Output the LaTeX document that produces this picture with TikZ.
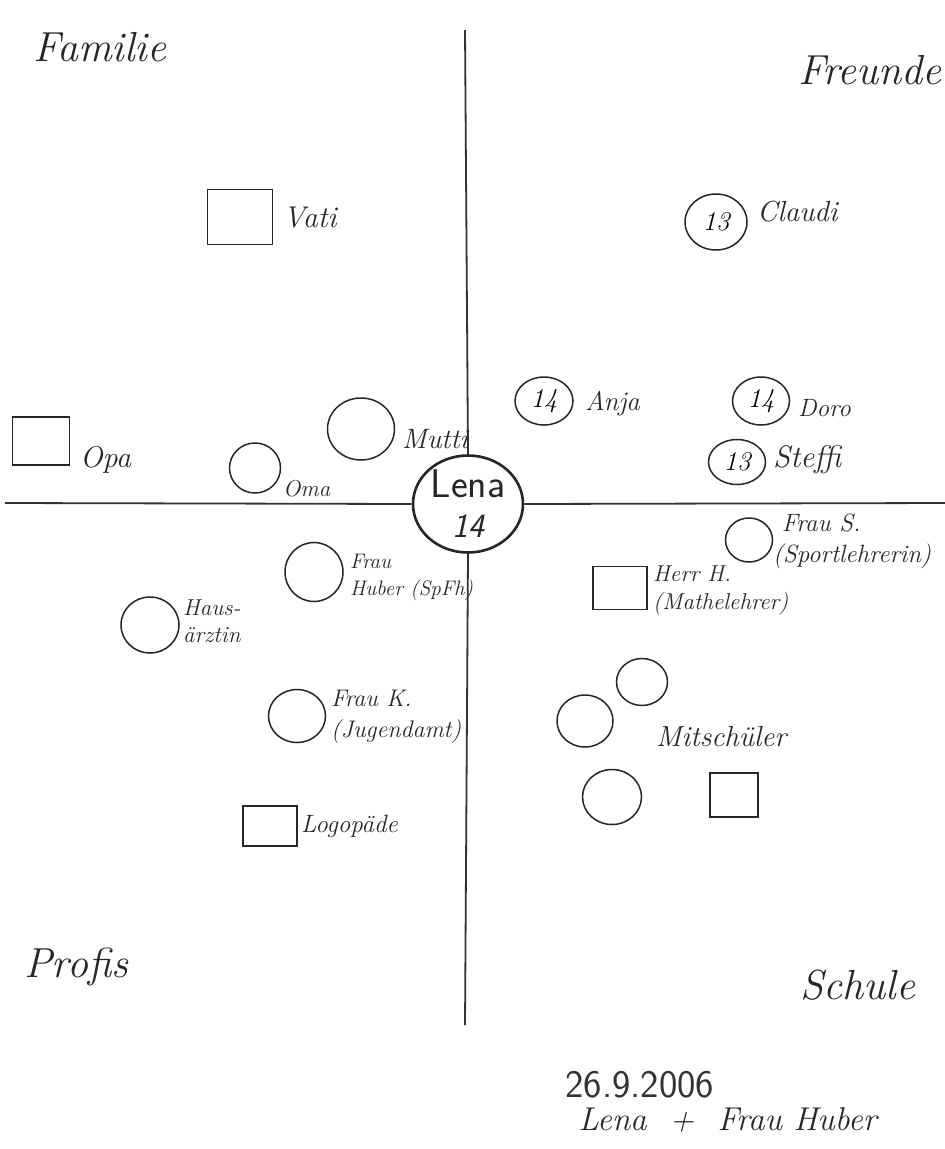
\documentclass[tikz,border=0pt]{standalone}
\usetikzlibrary{shapes.geometric}
\newcommand{\fsz}[1]{\fontsize{#1}{#1}\selectfont}
\newcommand{\fszb}[2]{\fontsize{#1}{#2}\selectfont}
\begin{document}
\begin{tikzpicture}[x=1pt,y=-1pt,
  pen/.style={draw=black!85, line width=1.5pt},
  person/.style={pen, ellipse, inner sep=0pt, font=\itshape\fsz{27}},
  box/.style={pen, rectangle, inner sep=0pt},
  lbl/.style={font=\itshape\fsz{24}, text=black!85, inner sep=0pt},
  small/.style={text=black!85, align=left, inner sep=0pt},
  title/.style={font=\itshape\fontsize{42}{44}\selectfont, text=black!85},
  axis/.style={draw=black!80, line width=1.8pt}]
\useasboundingbox (0,0) rectangle (945,1149);
\fill[white] (0,0) rectangle (945,1149);
% axes
\coordinate (top) at (465,30);
\coordinate (bot) at (465,1025);
\coordinate (left) at (5,503);
\coordinate (right) at (945,503);
\node[ellipse, draw=black!85, line width=2.6pt, fill=white, minimum width=110, minimum height=97, inner sep=0pt,
  label={[font=\sffamily\fontsize{40}{40}\selectfont, text=black!85, align=center]center:Lena\\{\itshape\fsz{34}14}}] (lena) at (468,504) {};
\draw[axis] (top) -- (lena.north);
\draw[axis] (lena.south) -- (bot);
\draw[axis] (left) -- (lena.west);
\draw[axis] (lena.east) -- (right);
% titles
\node[title] (familie) at (100,47) {Familie};
\node[title] (freunde) at (870,70) {Freunde};
\node[title] (profis) at (76,967) {Profis};
\node[title] (schule) at (858,985) {Schule};
% Familie
\node[box, minimum width=65, minimum height=55] (vati) at (240,217) {};
\node[lbl, font=\itshape\fsz{30}, anchor=west] (vatil) at (283,218) {Vati};
\node[box, minimum width=57, minimum height=48] (opa) at (41,441) {};
\node[lbl, font=\itshape\fsz{30}, anchor=west] (opal) at (80,460) {Opa};
\node[person, minimum width=51, minimum height=50] (oma) at (255,468) {};
\node[lbl, font=\itshape\fsz{23}, anchor=west] (omal) at (283,489) {Oma};
\node[person, minimum width=67, minimum height=62] (mutti) at (361,429) {};
\node[lbl, font=\itshape\fsz{28}, anchor=west] (muttil) at (402,439) {Mutti};
% Freunde
\node[person, minimum width=62, minimum height=56] (claudi) at (716,222) {13};
\node[lbl, font=\itshape\fsz{29}, anchor=west] (claudil) at (757,212) {Claudi};
\node[person, minimum width=58, minimum height=48] (anja) at (544,401) {14};
\node[lbl, font=\itshape\fsz{27}, anchor=west] (anjal) at (585,404) {Anja};
\node[person, minimum width=57, minimum height=48] (doro) at (761,401) {14};
\node[lbl, font=\itshape\fsz{25}, anchor=west] (dorol) at (798,408) {Doro};
\node[person, minimum width=57, minimum height=45] (steffi) at (737,462) {13};
\node[lbl, font=\itshape\fsz{31}, anchor=west] (steffil) at (773,460) {Steffi};
% Schule
\node[person, minimum width=47, minimum height=44] (fraus) at (749,540) {};
\node[small, font=\itshape\fszb{25}{31}, anchor=north west] (frausl) at (773,514) {\ Frau S.\\(Sportlehrerin)};
\node[box, minimum width=54, minimum height=43] (herrh) at (620,588) {};
\node[small, font=\itshape\fszb{23}{28}, anchor=north west] (herrhl) at (653,566) {Herr H.\\(Mathelehrer)};
\node[person, minimum width=51, minimum height=47] (m1) at (642,682) {};
\node[person, minimum width=56, minimum height=52] (m2) at (585,721) {};
\node[person, minimum width=59, minimum height=55] (m3) at (612,797) {};
\node[box, minimum width=48, minimum height=44] (m4) at (734,795) {};
\node[lbl, font=\itshape\fsz{29}, anchor=west] (mitl) at (656,737) {Mitschüler};
% Profis
\node[person, minimum width=58, minimum height=59] (huber) at (314,572) {};
\node[small, font=\itshape\fszb{21}{27}, anchor=north west] (huberl) at (350,554) {Frau\\Huber (SpFh)};
\node[person, minimum width=58, minimum height=56] (arzt) at (150,625) {};
\node[small, font=\itshape\fszb{23}{27}, anchor=north west] (arztl) at (183,600) {Haus-\\ärztin};
\node[person, minimum width=57, minimum height=53] (fk) at (297,716) {};
\node[small, font=\itshape\fszb{24}{31}, anchor=north west] (fkl) at (331,690) {Frau K.\\(Jugendamt)};
\node[box, minimum width=54, minimum height=40] (logo) at (270,826) {};
\node[lbl, font=\itshape\fsz{25}, anchor=west] (logol) at (301,826) {Logopäde};
% date
\node[font=\sffamily\fontsize{39}{40}\selectfont, text=black!80, anchor=west] (date) at (562,1085) {26.9.2006};
\node[font=\itshape\fontsize{33}{35}\selectfont, text=black!85, anchor=west] (who) at (575,1120) {Lena \ + \ Frau Huber};
\end{tikzpicture}
\end{document}
